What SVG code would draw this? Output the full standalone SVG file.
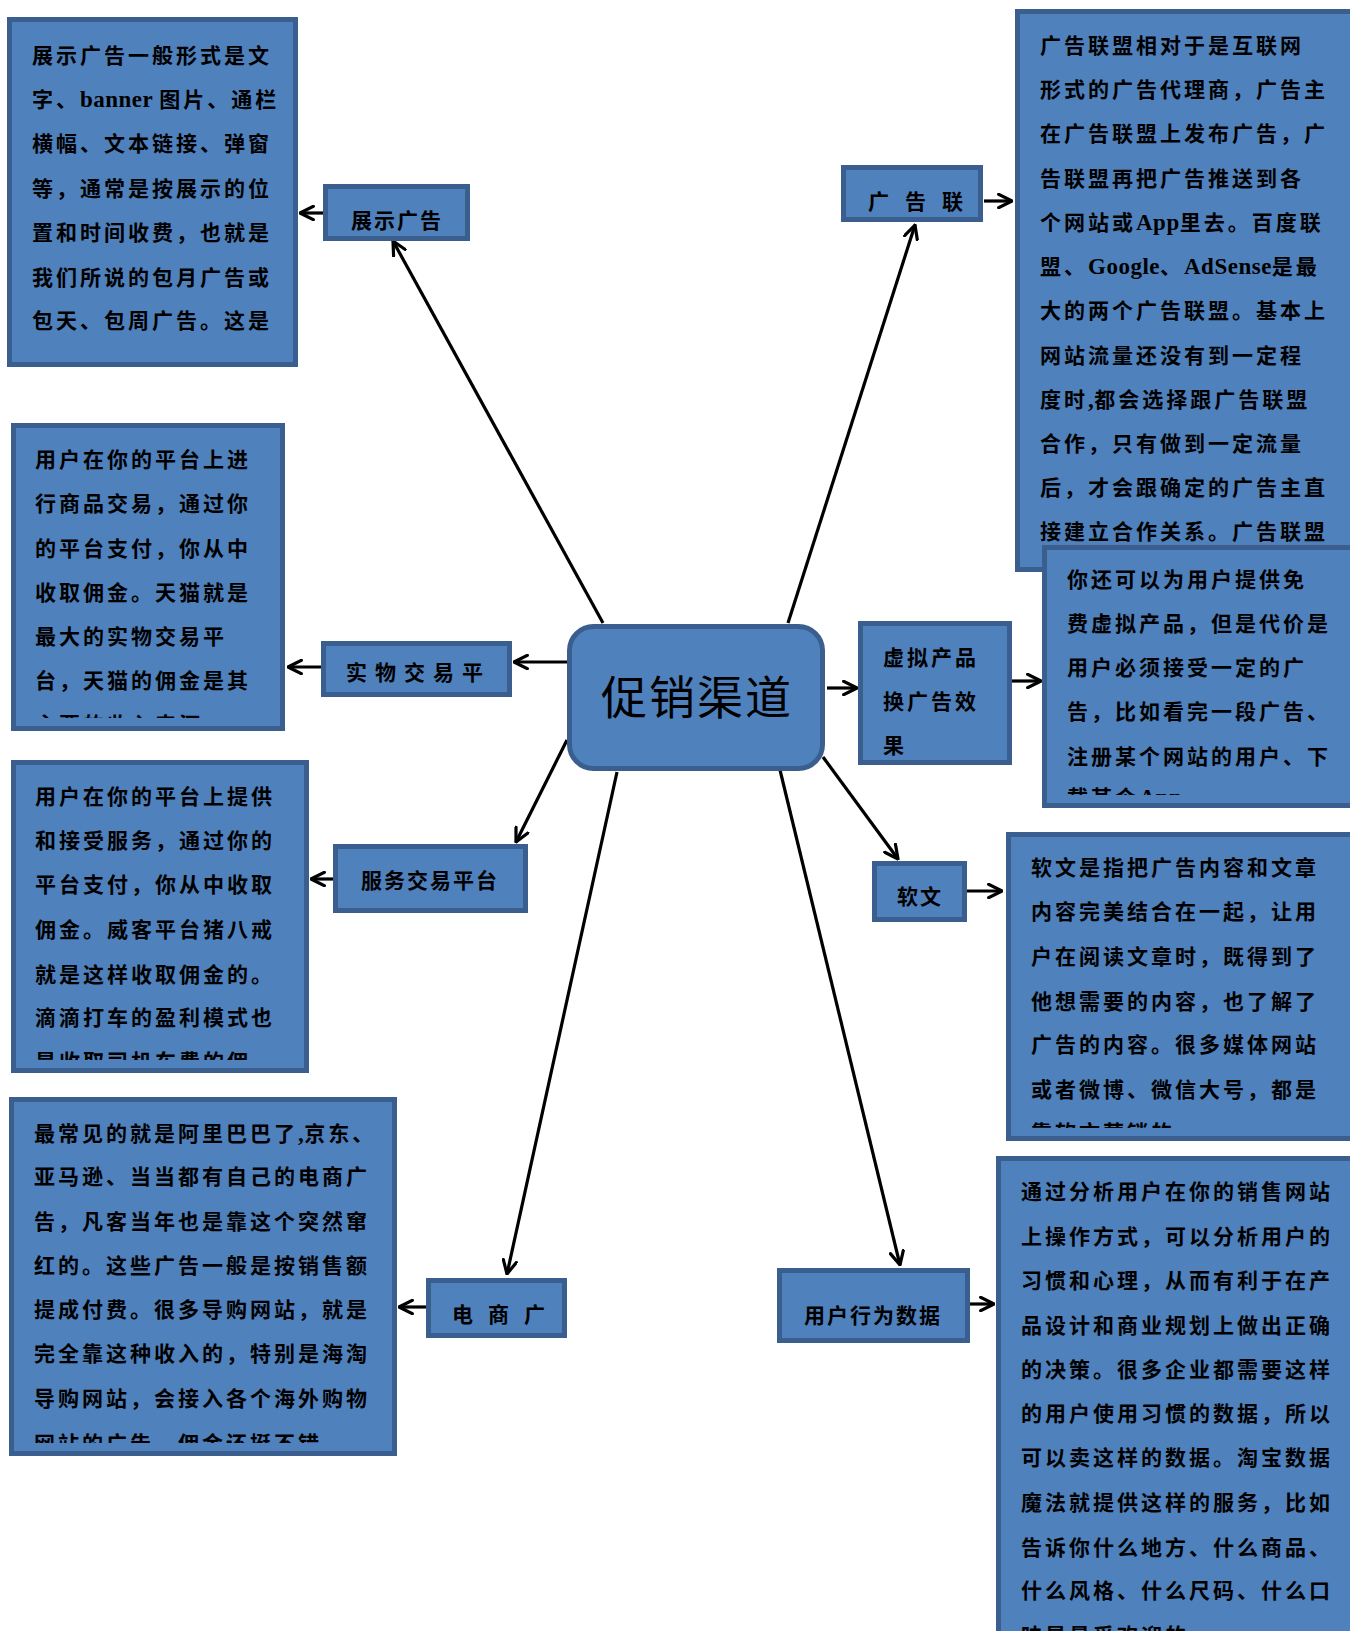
<svg xmlns="http://www.w3.org/2000/svg" width="1350" height="1631" viewBox="0 0 1350 1631">
  <style>
    .box { fill: #4f81bd; stroke: #3a5f8f; stroke-width: 5; }
    .hub { fill: #4f81bd; stroke: #3a5f8f; stroke-width: 5; }
    .txt { font-family: 'Liberation Serif', 'Noto Sans CJK SC', serif; font-size: 21px; font-weight: 700; fill: #000; letter-spacing: 3px; }
    .lat { letter-spacing: 0.5px; font-size: 23px; }
    .lbl { font-family: 'Noto Sans CJK SC', 'Liberation Sans', sans-serif; font-size: 21px; font-weight: 700; fill: #000; }
    .title { font-family: 'Noto Sans CJK SC', sans-serif; font-size: 46px; fill: #000; letter-spacing: 2px; }
    .wire { stroke: #000; stroke-width: 3.2; fill: none; marker-end: url(#arrow); }
  </style>
  <defs>
    <marker id="arrow" viewBox="0 0 12 12" refX="11" refY="6" markerWidth="16" markerHeight="16" markerUnits="userSpaceOnUse" orient="auto">
      <path d="M1,1 L11,6 L1,11" fill="none" stroke="#000" stroke-width="2.4" stroke-linecap="round" stroke-linejoin="round"/>
    </marker>
    <clipPath id="clipC"><rect x="11" y="423" width="274" height="295"/></clipPath>
    <clipPath id="clipD"><rect x="1042" y="545" width="308" height="250"/></clipPath>
    <clipPath id="clipE"><rect x="11" y="760" width="298" height="300"/></clipPath>
    <clipPath id="clipF"><rect x="1006" y="832" width="344" height="296"/></clipPath>
    <clipPath id="clipG"><rect x="9" y="1097" width="388" height="346"/></clipPath>
    <clipPath id="clipH"><rect x="996" y="1156" width="354" height="475"/></clipPath>
  </defs>

  <rect width="1350" height="1631" fill="#fff"/>

  <!-- connectors -->
  <g id="connectors">
    <line class="wire" x1="603" y1="623" x2="393" y2="241"/>
    <line class="wire" x1="788" y1="623" x2="915" y2="225"/>
    <line class="wire" x1="323" y1="213" x2="300" y2="213"/>
    <line class="wire" x1="984" y1="201" x2="1012" y2="201"/>
    <line class="wire" x1="567" y1="662" x2="514" y2="662"/>
    <line class="wire" x1="321" y1="667" x2="288" y2="667"/>
    <line class="wire" x1="827" y1="688" x2="857" y2="688"/>
    <line class="wire" x1="1012" y1="681" x2="1041" y2="681"/>
    <line class="wire" x1="567" y1="740" x2="516" y2="842"/>
    <line class="wire" x1="333" y1="879" x2="311" y2="879"/>
    <line class="wire" x1="823" y1="757" x2="898" y2="859"/>
    <line class="wire" x1="967" y1="891" x2="1002" y2="891"/>
    <line class="wire" x1="617" y1="772" x2="507" y2="1274"/>
    <line class="wire" x1="426" y1="1307" x2="399" y2="1307"/>
    <line class="wire" x1="780" y1="770" x2="900" y2="1265"/>
    <line class="wire" x1="970" y1="1304" x2="994" y2="1304"/>
  </g>

  <!-- display ads description -->
  <g id="desc-display">
    <rect class="box" x="9.5" y="19.5" width="286" height="345"/>
    <text class="txt">
      <tspan x="32" y="63">展示广告一般形式是文</tspan>
      <tspan x="32" y="107">字、<tspan class="lat">banner </tspan>图片、通栏</tspan>
      <tspan x="32" y="151">横幅、文本链接、弹窗</tspan>
      <tspan x="32" y="196">等，通常是按展示的位</tspan>
      <tspan x="32" y="240">置和时间收费，也就是</tspan>
      <tspan x="32" y="285">我们所说的包月广告或</tspan>
      <tspan x="32" y="328">包天、包周广告。这是</tspan>
    </text>
  </g>

  <g id="node-display">
    <rect class="box" x="325.5" y="186.5" width="142" height="52"/>
    <text class="lbl" x="397" y="228" text-anchor="middle" letter-spacing="2">展示广告</text>
  </g>

  <!-- ad network description -->
  <g id="desc-network">
    <rect class="box" x="1017.5" y="11.5" width="340" height="558"/>
    <text class="txt">
      <tspan x="1040" y="53">广告联盟相对于是互联网</tspan>
      <tspan x="1040" y="97">形式的广告代理商，广告主</tspan>
      <tspan x="1040" y="141">在广告联盟上发布广告，广</tspan>
      <tspan x="1040" y="186">告联盟再把广告推送到各</tspan>
      <tspan x="1040" y="230">个网站或<tspan class="lat">App</tspan>里去。百度联</tspan>
      <tspan x="1040" y="274">盟、<tspan class="lat">Google</tspan>、<tspan class="lat">AdSense</tspan>是最</tspan>
      <tspan x="1040" y="318">大的两个广告联盟。基本上</tspan>
      <tspan x="1040" y="363">网站流量还没有到一定程</tspan>
      <tspan x="1040" y="407">度时<tspan class="lat">,</tspan>都会选择跟广告联盟</tspan>
      <tspan x="1040" y="451">合作，只有做到一定流量</tspan>
      <tspan x="1040" y="495">后，才会跟确定的广告主直</tspan>
      <tspan x="1040" y="539">接建立合作关系。广告联盟</tspan>
    </text>
  </g>

  <g id="node-network">
    <rect class="box" x="843.5" y="167.5" width="137" height="52"/>
    <text class="lbl" x="868" y="209" letter-spacing="16">广告联</text>
  </g>

  <!-- physical goods platform description -->
  <g id="desc-goods">
    <rect class="box" x="13.5" y="425.5" width="269" height="303"/>
    <text class="txt" clip-path="url(#clipC)">
      <tspan x="35" y="467">用户在你的平台上进</tspan>
      <tspan x="35" y="511">行商品交易，通过你</tspan>
      <tspan x="35" y="556">的平台支付，你从中</tspan>
      <tspan x="35" y="600">收取佣金。天猫就是</tspan>
      <tspan x="35" y="644">最大的实物交易平</tspan>
      <tspan x="35" y="688">台，天猫的佣金是其</tspan>
      <tspan x="35" y="732">主要的收入来源</tspan>
    </text>
  </g>

  <g id="node-goods">
    <rect class="box" x="323.5" y="643.5" width="186" height="51"/>
    <text class="lbl" x="346" y="680" letter-spacing="8">实物交易平</text>
  </g>

  <!-- central node -->
  <g id="node-center">
    <rect class="hub" x="569.5" y="626.5" width="253" height="142" rx="24" ry="24"/>
    <text class="title" x="697" y="714" text-anchor="middle">促销渠道</text>
  </g>

  <!-- virtual products node -->
  <g id="node-virtual">
    <rect class="box" x="860.5" y="623.5" width="149" height="139"/>
    <text class="lbl" letter-spacing="3">
      <tspan x="883" y="665">虚拟产品</tspan>
      <tspan x="883" y="709">换广告效</tspan>
      <tspan x="883" y="753">果</tspan>
    </text>
  </g>

  <g id="desc-virtual">
    <rect class="box" x="1044.5" y="547.5" width="312" height="258"/>
    <text class="txt" letter-spacing="6" clip-path="url(#clipD)">
      <tspan x="1067" y="587">你还可以为用户提供免</tspan>
      <tspan x="1067" y="631">费虚拟产品，但是代价是</tspan>
      <tspan x="1067" y="675">用户必须接受一定的广</tspan>
      <tspan x="1067" y="719">告，比如看完一段广告、</tspan>
      <tspan x="1067" y="764">注册某个网站的用户、下</tspan>
      <tspan x="1067" y="805">载某个<tspan class="lat">App</tspan></tspan>
    </text>
  </g>

  <!-- service platform -->
  <g id="desc-service">
    <rect class="box" x="13.5" y="762.5" width="293" height="308"/>
    <text class="txt" clip-path="url(#clipE)">
      <tspan x="35" y="804">用户在你的平台上提供</tspan>
      <tspan x="35" y="848">和接受服务，通过你的</tspan>
      <tspan x="35" y="892">平台支付，你从中收取</tspan>
      <tspan x="35" y="937">佣金。威客平台猪八戒</tspan>
      <tspan x="35" y="982">就是这样收取佣金的。</tspan>
      <tspan x="35" y="1025">滴滴打车的盈利模式也</tspan>
      <tspan x="35" y="1069">是收取司机车费的佣</tspan>
    </text>
  </g>

  <g id="node-service">
    <rect class="box" x="335.5" y="846.5" width="190" height="64"/>
    <text class="lbl" x="430" y="888" text-anchor="middle" letter-spacing="2">服务交易平台</text>
  </g>

  <!-- soft articles -->
  <g id="node-soft">
    <rect class="box" x="874.5" y="863.5" width="90" height="56"/>
    <text class="lbl" x="920" y="904" text-anchor="middle" letter-spacing="2">软文</text>
  </g>

  <g id="desc-soft">
    <rect class="box" x="1008.5" y="834.5" width="348" height="304"/>
    <text class="txt" clip-path="url(#clipF)">
      <tspan x="1031" y="875">软文是指把广告内容和文章</tspan>
      <tspan x="1031" y="919">内容完美结合在一起，让用</tspan>
      <tspan x="1031" y="964">户在阅读文章时，既得到了</tspan>
      <tspan x="1031" y="1009">他想需要的内容，也了解了</tspan>
      <tspan x="1031" y="1052">广告的内容。很多媒体网站</tspan>
      <tspan x="1031" y="1097">或者微博、微信大号，都是</tspan>
      <tspan x="1031" y="1140">靠软文营销的</tspan>
    </text>
  </g>

  <!-- e-commerce ads -->
  <g id="desc-ecom">
    <rect class="box" x="11.5" y="1099.5" width="383" height="354"/>
    <text class="txt" clip-path="url(#clipG)">
      <tspan x="34" y="1141">最常见的就是阿里巴巴了<tspan class="lat">,</tspan>京东、</tspan>
      <tspan x="34" y="1184">亚马逊、当当都有自己的电商广</tspan>
      <tspan x="34" y="1229">告，凡客当年也是靠这个突然窜</tspan>
      <tspan x="34" y="1273">红的。这些广告一般是按销售额</tspan>
      <tspan x="34" y="1317">提成付费。很多导购网站，就是</tspan>
      <tspan x="34" y="1361">完全靠这种收入的，特别是海淘</tspan>
      <tspan x="34" y="1406">导购网站，会接入各个海外购物</tspan>
      <tspan x="34" y="1451">网站的广告，佣金还挺不错</tspan>
    </text>
  </g>

  <g id="node-ecom">
    <rect class="box" x="428.5" y="1280.5" width="136" height="55"/>
    <text class="lbl" x="452" y="1322" letter-spacing="15">电商广</text>
  </g>

  <!-- user behaviour data -->
  <g id="node-userdata">
    <rect class="box" x="779.5" y="1270.5" width="188" height="70"/>
    <text class="lbl" x="873" y="1323" text-anchor="middle" letter-spacing="2">用户行为数据</text>
  </g>

  <g id="desc-userdata">
    <rect class="box" x="998.5" y="1158.5" width="358" height="480"/>
    <text class="txt" clip-path="url(#clipH)">
      <tspan x="1021" y="1199">通过分析用户在你的销售网站</tspan>
      <tspan x="1021" y="1244">上操作方式，可以分析用户的</tspan>
      <tspan x="1021" y="1288">习惯和心理，从而有利于在产</tspan>
      <tspan x="1021" y="1333">品设计和商业规划上做出正确</tspan>
      <tspan x="1021" y="1377">的决策。很多企业都需要这样</tspan>
      <tspan x="1021" y="1421">的用户使用习惯的数据，所以</tspan>
      <tspan x="1021" y="1465">可以卖这样的数据。淘宝数据</tspan>
      <tspan x="1021" y="1510">魔法就提供这样的服务，比如</tspan>
      <tspan x="1021" y="1555">告诉你什么地方、什么商品、</tspan>
      <tspan x="1021" y="1598">什么风格、什么尺码、什么口</tspan>
      <tspan x="1021" y="1643">味是最受欢迎的</tspan>
    </text>
  </g>
</svg>
